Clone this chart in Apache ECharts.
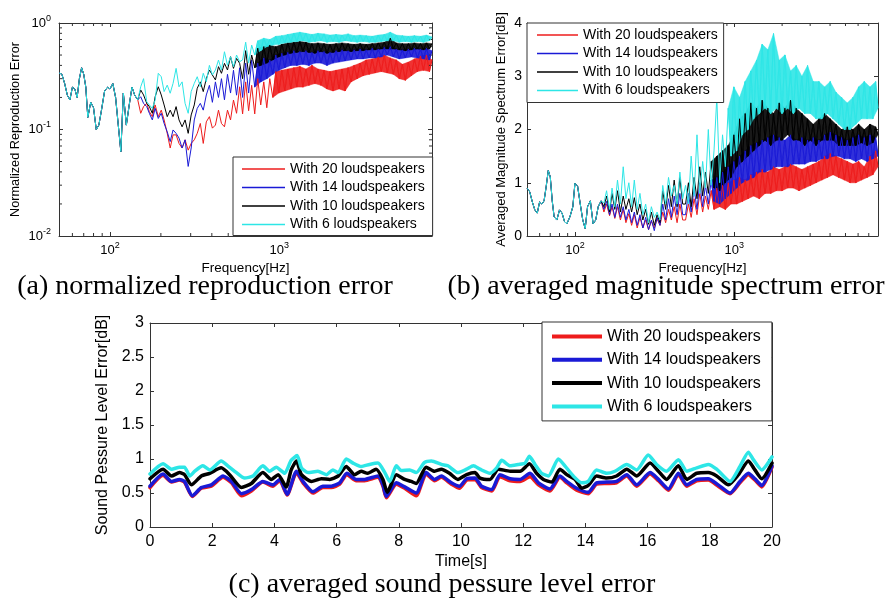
<!DOCTYPE html>
<html><head><meta charset="utf-8">
<style>html,body{margin:0;padding:0;background:#fff}#c{width:885px;height:603px}</style>
<script src="https://cdn.jsdelivr.net/npm/echarts@6.0.0/dist/echarts.min.js"></script>
</head><body><div id="c"></div>
<script>
const NAMES = ['With 20 loudspeakers','With 14 loudspeakers','With 10 loudspeakers','With 6 loudspeakers'];
const COLORS = ['#ee1c1c','#1a1ad6','#000000','#2de6e6'];
const CAPTIONS = ['(a) normalized reproduction error','(b) averaged magnitude spectrum error','(c) averaged sound pessure level error'];

// frequency grid (Hz)
const FREQ_LOW = [50,52,54,56,58,60,62,64,66,68,70,72,74,77,80,83,86,89,93,97,100,104,108,112,116,120,125,130,135,140,146];
const FREQ_MID = [152,158,165,171,178,185,193,201,209,218,227,236,246,256,267,278,290,302,315,328,342,356,371,387,403,420,438,456,475];
const FREQ_MID2 = [495,516,537,560,584];
const FREQ_HIGH = [608,634,660,688,717,747,778,811,845,880,
  917,955,995,1037,1080,1125,1172,1221,1272,1325,
  1381,1439,1499,1562,1627,1695,1766,1840,1917,1997,
  2081,2168,2259,2353,2452,2554,2661,2773,2889,3010,
  3136,3267,3404,3546,3695,3849,4011,4178,4353,4536,
  4726,4923,5130,5344,5568,5802,6045,6298,6562,6836,
  7123,7421,7732,8000];

// (a) normalized reproduction error
const A_COMMON = [.34,.33,.27,.21,.19,.25,.24,.20,.30,.38,.33,.25,.13,.18,.16,.10,.11,.15,.23,.25,.24,.27,.20,.11,.062,.22,.11,.17,.25,.21,.19];
const A_MID_20 = [.142,.164,.176,.147,.132,.170,.132,.152,.123,.092,.067,.089,.089,.074,.067,.080,.064,.074,.080,.092,.114,.074,.118,.132,.103,.110,.152,.114,.106,.152,.123,.189,.142,.252];
const A_MID_14 = [.203,.176,.164,.142,.123,.158,.127,.142,.114,.095,.077,.099,.092,.083,.067,.080,.045,.067,.123,.158,.176,.152,.211,.26,.18,.28,.2,.3,.19,.33,.22,.36,.21,.38];
const A_MID_10 = [.235,.211,.176,.164,.142,.203,.252,.211,.170,.132,.152,.132,.164,.123,.106,.123,.092,.137,.170,.244,.28,.227,.30,.362,.325,.292,.389,.337,.418,.362,.483,.375,.465,.418];
const A_MID_6 = [.252,.30,.182,.17,.158,.189,.337,.313,.227,.261,.219,.271,.375,.252,.28,.176,.142,.227,.271,.313,.252,.337,.28,.40,.325,.362,.449,.362,.537,.40,.483,.389,.50,.433];
const A_HIGH_20 = [.14,.28,.15,.26,.14,.3,.17,.28,.16,.3, .2,.35,.22,.36,.23,.37,.24,.38,.25,.39, .25,.37,.26,.4,.27,.37,.26,.36,.24,.35, .23,.36,.24,.37,.23,.38,.28,.4,.3,.42, .32,.45,.33,.46,.34,.48,.35,.5,.34,.47, .33,.45,.3,.41,.29,.43,.32,.46,.35,.49, .36,.5,.35,.45];
const A_HIGH_14 = [.2,.42,.22,.45,.25,.42,.28,.47,.3,.45, .33,.5,.36,.52,.38,.53,.4,.55,.4,.54, .41,.55,.4,.53,.42,.55,.42,.54,.4,.53, .42,.55,.43,.56,.44,.55,.45,.56,.46,.57, .46,.56,.47,.58,.47,.57,.48,.59,.5,.6, .48,.57,.46,.56,.47,.57,.48,.58,.47,.57, .46,.58,.45,.55];
const A_HIGH_10 = [.3,.55,.33,.5,.38,.58,.4,.6,.42,.62, .45,.6,.48,.63,.5,.65,.52,.66,.53,.67, .54,.66,.53,.64,.52,.65,.54,.64,.52,.63, .53,.64,.54,.65,.55,.64,.54,.63,.55,.64, .55,.63,.56,.64,.56,.65,.57,.66,.57,.72, .57,.65,.56,.64,.55,.64,.56,.65,.57,.64, .56,.65,.57,.64];
const A_HIGH_6 = [.45,.66,.42,.62,.5,.68,.55,.72,.6,.7, .62,.75,.63,.76,.65,.78,.66,.8,.67,.82, .68,.8,.66,.78,.67,.8,.68,.79,.66,.77, .67,.78,.66,.77,.68,.79,.67,.76,.66,.77, .67,.76,.66,.75,.66,.77,.67,.78,.68,.82, .68,.77,.66,.76,.67,.75,.66,.76,.67,.75, .66,.77,.68,.74];

// (b) averaged magnitude spectrum error [dB]
const B_COMMON = [.9,.83,.64,.49,.43,.64,.6,.66,.93,1.23,1.11,.66,.36,.30,.49,.43,.27,.23,.36,.55,.99,.93,.6,.3,.14,.55,.66,.23,.3,.55,.66];
const B_MID_20 = [.45,.6,.38,.55,.33,.55,.3,.5,.25,.42,.2,.4,.15,.35,.15,.3,.12,.28,.15,.32,.2,.45,.25,.5,.3,.55,.25,.6,.3];
const B_MID_14 = [.5,.65,.4,.6,.35,.6,.35,.55,.3,.5,.25,.45,.2,.4,.15,.35,.12,.3,.1,.35,.2,.6,.3,.7,.35,.75,.4,.8,.4];
const B_MID_10 = [.55,.75,.45,.8,.5,.85,.45,.75,.5,.7,.45,.72,.4,.6,.3,.5,.22,.45,.2,.4,.25,.85,.5,.95,.55,1.05,.55,1.1,.6];
const B_MID_6 = [.62,.85,.5,.9,.55,1.05,.6,1.3,.7,1.0,.55,1.05,.5,.8,.4,.6,.25,.55,.35,.45,.3,.95,.6,1.1,.75,.95,.6,1.2,.7];
const B_HIGH_20 = [.3,.6,.35,.7,.4, .8,.45,.75,.5,.85,.5,.9,.55,.95,.5, 1.0,.6,1.05,.6,1.1,.65,1.05,.7,1.15,.75, 1.2,.7,1.25,.8,1.2,.8,1.3,.85,1.25,.85, 1.3,.9,1.35,.9,1.3,.85,1.25,.9,1.3,.95, 1.35,1.0,1.4,1.05,1.5,1.1,1.55,1.15,1.5,1.1, 1.45,1.05,1.4,1.0,1.35,1.0,1.4,1.05,1.3,1.1, 1.5,1.15,1.6,1.3];
const B_HIGH_14 = [.4,.8,.45,.9,.5, 1.0,.55,.95,.6,1.05,.65,1.1,.6,1.2,.7, 1.3,.8,1.4,.9,1.5,1.0,1.6,1.05,1.7,1.1, 1.75,1.2,1.8,1.2,1.85,1.25,1.9,1.3,1.85,1.3, 1.8,1.3,1.9,1.35,1.8,1.35,1.85,1.35,1.8,1.4, 1.85,1.4,1.8,1.45,1.9,1.45,1.95,1.5,1.9,1.5, 1.85,1.45,1.8,1.45,1.85,1.4,1.9,1.45,1.85,1.4, 1.9,1.45,1.85,1.5];
const B_HIGH_10 = [.6,1.0,.55,1.1,.7, 1.3,.75,1.2,.8,1.4,.9,1.5,.85,1.6,1.0, 1.7,1.1,1.9,1.3,2.2,1.4,2.3,1.5,2.5,1.6, 2.4,1.7,2.55,1.8,2.4,1.7,2.3,1.8,2.5,1.8, 2.4,1.9,2.55,1.8,2.4,1.8,2.3,1.7,2.2,1.8, 2.1,1.7,2.2,1.8,2.3,1.8,2.2,1.8,2.1,1.7, 2.0,1.7,2.05,1.7,2.0,1.7,2.1,1.75,2.0,1.7, 2.1,1.75,2.05,1.9];
const B_HIGH_6 = [.95,.6,1.5,.75,1.9, .8,1.4,.9,2.0,.95,1.6,2.6,1.0,1.9,1.3, 2.4,1.5,2.8,1.6,2.6,1.9,2.9,2.0,3.1,2.2, 3.3,2.3,3.6,2.4,3.5,2.3,3.8,2.4,3.3,2.3, 3.4,2.4,3.1,2.3,3.2,2.4,3.0,2.3,3.2,2.3, 2.9,2.2,2.9,2.2,2.8,2.3,2.9,2.2,2.7,2.1, 2.6,2.0,2.5,2.0,2.6,2.1,2.8,2.2,2.9,2.2, 2.8,2.2,2.9,2.4];

// (c) averaged sound pressure level error [dB] vs time [s]
const C_20 = [[0,.58],[.42,.76],[.69,.66],[.95,.69],[1.11,.66],[1.36,.45],[1.65,.57],[1.97,.6],[2.35,.73],[2.62,.65],[2.94,.46],[3.26,.53],[3.63,.66],[3.95,.6],[4.17,.68],[4.41,.47],[4.71,.8],[4.92,.65],[5.24,.5],[5.56,.58],[5.83,.58],[6.1,.63],[6.33,.77],[6.63,.68],[6.9,.68],[7.33,.73],[7.49,.6],[7.6,.43],[7.92,.63],[8.19,.57],[8.56,.46],[8.88,.78],[9.15,.68],[9.37,.73],[9.69,.63],[9.95,.57],[10.18,.69],[10.45,.7],[10.66,.58],[10.99,.53],[11.25,.74],[11.58,.68],[11.9,.67],[12.22,.74],[12.49,.62],[12.86,.53],[13.18,.73],[13.4,.65],[13.72,.54],[14.09,.49],[14.36,.63],[14.68,.64],[15,.65],[15.33,.75],[15.65,.6],[16.08,.78],[16.35,.68],[16.67,.54],[16.99,.77],[17.26,.6],[17.58,.68],[17.95,.69],[18.27,.6],[18.65,.49],[18.97,.65],[19.24,.77],[19.45,.69],[19.67,.59],[20,.88]];
const C_14 = [[0,.6],[.42,.78],[.69,.67],[.95,.7],[1.11,.67],[1.36,.46],[1.65,.58],[1.97,.62],[2.35,.75],[2.62,.67],[2.94,.49],[3.26,.55],[3.63,.67],[3.95,.62],[4.17,.7],[4.41,.48],[4.71,.82],[4.92,.67],[5.24,.52],[5.56,.6],[5.83,.6],[6.1,.65],[6.33,.79],[6.63,.7],[6.9,.7],[7.33,.75],[7.49,.62],[7.6,.45],[7.92,.65],[8.19,.59],[8.56,.5],[8.88,.8],[9.15,.7],[9.37,.75],[9.69,.65],[9.95,.6],[10.18,.71],[10.45,.72],[10.66,.6],[10.99,.55],[11.25,.77],[11.58,.71],[11.9,.7],[12.22,.79],[12.49,.65],[12.86,.56],[13.18,.75],[13.4,.67],[13.72,.57],[14.09,.51],[14.36,.65],[14.68,.66],[15,.67],[15.33,.77],[15.65,.62],[16.08,.8],[16.35,.7],[16.67,.56],[16.99,.79],[17.26,.62],[17.58,.7],[17.95,.71],[18.27,.62],[18.65,.5],[18.97,.67],[19.24,.79],[19.45,.71],[19.67,.61],[20,.9]];
const C_10 = [[0,.71],[.42,.85],[.69,.75],[.95,.8],[1.11,.77],[1.33,.62],[1.65,.75],[1.92,.79],[2.29,.87],[2.56,.77],[2.94,.58],[3.26,.64],[3.63,.8],[3.9,.7],[4.12,.77],[4.38,.59],[4.54,.84],[4.71,.97],[4.87,.77],[5.19,.67],[5.51,.71],[5.78,.7],[6.05,.75],[6.31,.89],[6.58,.77],[6.79,.82],[7,.79],[7.27,.85],[7.49,.7],[7.63,.51],[7.92,.77],[8.19,.7],[8.4,.67],[8.56,.64],[8.88,.88],[9.15,.82],[9.37,.85],[9.63,.79],[9.9,.7],[10.18,.77],[10.45,.8],[10.61,.72],[10.93,.7],[11.2,.85],[11.58,.82],[11.9,.82],[12.2,.93],[12.43,.79],[12.65,.7],[12.92,.66],[13.18,.85],[13.4,.77],[13.67,.7],[13.88,.57],[14.09,.61],[14.36,.75],[14.68,.72],[15,.75],[15.33,.85],[15.65,.75],[16.08,.94],[16.35,.82],[16.61,.7],[16.99,.9],[17.26,.7],[17.58,.79],[17.95,.8],[18.22,.75],[18.6,.62],[18.92,.77],[19.24,.97],[19.45,.84],[19.67,.71],[20,.94]];
const C_6 = [[0,.78],[.42,.93],[.69,.85],[.95,.88],[1.11,.88],[1.28,.75],[1.44,.82],[1.7,.9],[1.92,.84],[2.29,.97],[2.5,.9],[2.78,.8],[3.04,.72],[3.31,.75],[3.63,.9],[3.85,.82],[4.06,.88],[4.33,.79],[4.54,.98],[4.73,1.05],[4.87,.87],[5.08,.8],[5.4,.82],[5.67,.77],[5.88,.84],[6.05,.8],[6.31,1.0],[6.53,.94],[6.79,.89],[7.06,.92],[7.33,.94],[7.55,.8],[7.71,.67],[7.92,.9],[8.08,.83],[8.35,.84],[8.56,.8],[8.83,.95],[9.05,.97],[9.37,.92],[9.58,.9],[9.9,.8],[10.18,.85],[10.4,.9],[10.61,.85],[10.93,.79],[11.15,.87],[11.31,.98],[11.58,.9],[11.84,.92],[12.06,.94],[12.2,1.04],[12.38,.92],[12.59,.79],[12.81,.75],[13.13,1.0],[13.34,.9],[13.61,.75],[13.88,.65],[14.09,.67],[14.36,.84],[14.68,.79],[14.95,.82],[15.33,.92],[15.65,.84],[16.02,1.06],[16.29,.92],[16.61,.82],[16.99,.99],[17.26,.82],[17.58,.87],[17.95,.92],[18.22,.85],[18.65,.67],[18.97,.89],[19.24,1.1],[19.4,.99],[19.67,.84],[20,1.03]];

// minor tick positions
const X_MINOR = [60,70,80,90,200,300,400,500,600,700,800,900,2000,3000,4000,5000,6000,7000];
const Y_MINOR_A = [.02,.03,.04,.05,.06,.07,.08,.09,.2,.3,.4,.5,.6,.7,.8,.9];

const FREQ_A = FREQ_LOW.concat(FREQ_MID, FREQ_MID2, FREQ_HIGH);
const FREQ_B = FREQ_A;
const A_VALS = [A_COMMON.concat(A_MID_20, A_HIGH_20), A_COMMON.concat(A_MID_14, A_HIGH_14), A_COMMON.concat(A_MID_10, A_HIGH_10), A_COMMON.concat(A_MID_6, A_HIGH_6)];
const B_VALS = [B_COMMON.concat(B_MID_20, B_HIGH_20), B_COMMON.concat(B_MID_14, B_HIGH_14), B_COMMON.concat(B_MID_10, B_HIGH_10), B_COMMON.concat(B_MID_6, B_HIGH_6)];
const C_VALS = [C_20, C_14, C_10, C_6];
// frequency above which the dense noise reads as a filled band, per series
const BAND_FROM_A = [900, 700, 700, 700];
const BAND_FROM_B = [700, 700, 700, 900];

const SANS = 'Liberation Sans, Arial, sans-serif';
const SERIF = 'Liberation Serif, Times New Roman, serif';
const AXC = '#333';
function pairs(xs, ys){ return xs.map((x,i)=>[x, ys[i]]); }
function logLabel(v){ const e = Math.round(Math.log10(v)); if (Math.abs(v/Math.pow(10,e)-1) > 1e-6) return ''; return '10{s|' + e + '}'; }
const RICH = { s: { fontSize: 9, fontFamily: SANS, color: '#000', padding: [0,0,9,0] } };
const line = { show: true, onZero: false, lineStyle: { color: AXC, width: 1 } };
const tick = { show: true, inside: true, length: 4, lineStyle: { color: AXC } };

function axisPair(kind, gi, cfg, main) {
  const base = Object.assign({ gridIndex: gi, axisLine: line, axisTick: tick, splitLine: { show: false }, minorTick:{show:false} }, cfg);
  const a = Object.assign({}, base, main);
  const b = Object.assign({}, base, { position: kind === 'x' ? 'top' : 'right', axisLabel: { show: false } });
  return [a, b];
}
const freqLabel = { formatter: logLabel, rich: RICH, fontSize: 13, fontFamily: SANS, color: '#000', margin: 5, showMinLabel:false, showMaxLabel:false };
const freqName = { fontSize: 13.5, fontFamily: SANS, color: '#000' };
const xAxes = [].concat(
  axisPair('x', 0, { type: 'log', logBase: 10, min: 50, max: 8000 }, { position: 'bottom', axisLabel: freqLabel, name: 'Frequency[Hz]', nameLocation: 'middle', nameGap: 25, nameTextStyle: freqName }),
  axisPair('x', 1, { type: 'log', logBase: 10, min: 50, max: 8000 }, { position: 'bottom', axisLabel: freqLabel, name: 'Frequency[Hz]', nameLocation: 'middle', nameGap: 25, nameTextStyle: freqName }),
  axisPair('x', 2, { type: 'value', min: 0, max: 20, interval: 2 }, { position: 'bottom', axisLabel: { fontSize: 16, fontFamily: SANS, color: '#000', margin: 7 }, name: 'Time[s]', nameLocation: 'middle', nameGap: 27, nameTextStyle: { fontSize: 16, fontFamily: SANS, color: '#000', verticalAlign: 'top' } })
);
const yAxes = [].concat(
  axisPair('y', 0, { type: 'log', logBase: 10, min: 0.01, max: 1 }, { position: 'left', axisLabel: { formatter: logLabel, rich: RICH, fontSize: 13, fontFamily: SANS, color: '#000', margin: 8 }, name: 'Normalized Reproduction Error', nameLocation: 'middle', nameGap: 37, nameTextStyle: { fontSize: 12.7, fontFamily: SANS, color: '#000' } }),
  axisPair('y', 1, { type: 'value', min: 0, max: 4, interval: 1 }, { position: 'left', axisLabel: { fontSize: 14, fontFamily: SANS, color: '#000', margin: 5 }, name: 'Averaged Magnitude Spectrum Error[dB]', nameLocation: 'middle', nameGap: 19, nameTextStyle: { fontSize: 13, fontFamily: SANS, color: '#000' } }),
  axisPair('y', 2, { type: 'value', min: 0, max: 3, interval: 0.5 }, { position: 'left', axisLabel: { fontSize: 16, fontFamily: SANS, color: '#000', margin: 6 }, name: 'Sound Pessure Level Error[dB]', nameLocation: 'middle', nameGap: 37, nameTextStyle: { fontSize: 16, fontFamily: SANS, color: '#000' } })
);

function tickSeries(gi, xs, ys, xr, yr) {
  const data = xs.map(v => [v, yr[0], 0]).concat(ys.map(v => [xr[0], v, 1]));
  return {
    type: 'custom', name: '_ticks' + gi, xAxisIndex: gi * 2, yAxisIndex: gi * 2, silent: true, z: 3,
    encode: { x: 0, y: 1 }, data: data, animation: false,
    renderItem: function (params, api) {
      const k = api.value(2), L = 3, st = { stroke: AXC, lineWidth: 1 };
      if (k === 0) {
        const v = api.value(0), p = api.coord([v, yr[0]]), q = api.coord([v, yr[1]]);
        return { type: 'group', children: [
          { type: 'line', shape: { x1: p[0], y1: p[1], x2: p[0], y2: p[1] - L }, style: st },
          { type: 'line', shape: { x1: q[0], y1: q[1], x2: q[0], y2: q[1] + L }, style: st } ] };
      }
      const v = api.value(1), p = api.coord([xr[0], v]), q = api.coord([xr[1], v]);
      return { type: 'group', children: [
        { type: 'line', shape: { x1: p[0], y1: p[1], x2: p[0] + L, y2: p[1] }, style: st },
        { type: 'line', shape: { x1: q[0], y1: q[1], x2: q[0] - L, y2: q[1] }, style: st } ] };
    }
  };
}

// dense-noise band: triangle strip over consecutive data points (above a start frequency)
function bandSeries(name, xi, yi, data, color, from) {
  return {
    type: 'custom', name: name, xAxisIndex: xi, yAxisIndex: yi, silent: true, animation: false,
    encode: { x: 0, y: 1 }, data: data, clip: true,
    renderItem: function (params, api) {
      const i = params.dataIndexInside;
      if (i < 2) return null;
      if (api.value(0, i - 2) < from) return null;
      const pts = [i - 2, i - 1, i].map(j => api.coord([api.value(0, j), api.value(1, j)]));
      return { type: 'polygon', shape: { points: pts }, style: { fill: color, stroke: color, lineWidth: 0.5, opacity: 0.9 } };
    }
  };
}

const series = [];
NAMES.forEach((n, i) => {
  const d = pairs(FREQ_A, A_VALS[i]);
  series.push(bandSeries(n, 0, 0, d, COLORS[i], BAND_FROM_A[i]));
  series.push({ type: 'line', name: n, xAxisIndex: 0, yAxisIndex: 0, data: d, symbol: 'none', lineStyle: { color: COLORS[i], width: 1 }, itemStyle: { color: COLORS[i] }, silent: true, animation: false });
});
NAMES.forEach((n, i) => {
  const d = pairs(FREQ_B, B_VALS[i]);
  series.push(bandSeries(n, 2, 2, d, COLORS[i], BAND_FROM_B[i]));
  series.push({ type: 'line', name: n, xAxisIndex: 2, yAxisIndex: 2, data: d, symbol: 'none', lineStyle: { color: COLORS[i], width: 1 }, itemStyle: { color: COLORS[i] }, silent: true, animation: false });
});
NAMES.forEach((n, i) => {
  series.push({ type: 'line', name: n, xAxisIndex: 4, yAxisIndex: 4, data: C_VALS[i], symbol: 'none', smooth: 0.2, lineStyle: { color: COLORS[i], width: 3.5, cap: 'round', join: 'round' }, itemStyle: { color: COLORS[i] }, silent: true, animation: false });
});
series.push(tickSeries(0, X_MINOR, Y_MINOR_A, [50, 8000], [0.01, 1]));
series.push(tickSeries(1, X_MINOR, [], [50, 8000], [0, 4]));

function legend(left, top, pad, iw, ih, fs, lh, gap) {
  return { data: NAMES.map((n, i) => ({ name: n, itemStyle: { color: COLORS[i] } })), orient: 'vertical', left: left, top: top, padding: pad, itemWidth: iw, itemHeight: ih, itemGap: gap, icon: 'rect', selectedMode: false,
    borderColor: '#333', borderWidth: 1, backgroundColor: '#fff', borderRadius: 0, z: 10,
    textStyle: { fontSize: fs, lineHeight: lh, fontFamily: SANS, color: '#000' } };
}

const option = {
  backgroundColor: '#fff', animation: false,
  grid: [
    { left: 59, top: 23, width: 373, height: 213, containLabel: false },
    { left: 527, top: 23, width: 351, height: 213, containLabel: false },
    { left: 150, top: 323, width: 622, height: 204, containLabel: false }
  ],
  xAxis: xAxes, yAxis: yAxes,
  legend: [
    legend(233, 157, [4, 8, 3, 9], 43, 1.5, 14, 16, 2.5),
    legend(527, 23, [4, 6, 4, 10], 41, 1.5, 14, 16, 2.5),
    legend(542, 322, [5, 11, 5, 10], 50, 4, 16, 19, 4.3)
  ],
  series: series,
  graphic: [
    { type: 'text', x: 205, y: 287, style: { text: CAPTIONS[0], fill: '#000', font: '28px ' + SERIF, align: 'center', verticalAlign: 'middle' } },
    { type: 'text', x: 666, y: 287, style: { text: CAPTIONS[1], fill: '#000', font: '28px ' + SERIF, align: 'center', verticalAlign: 'middle' } },
    { type: 'text', x: 442, y: 585, style: { text: CAPTIONS[2], fill: '#000', font: '28px ' + SERIF, align: 'center', verticalAlign: 'middle' } }
  ]
};
const chart = echarts.init(document.getElementById('c'), null, { renderer: 'canvas' });
chart.setOption(option);
</script></body></html>
